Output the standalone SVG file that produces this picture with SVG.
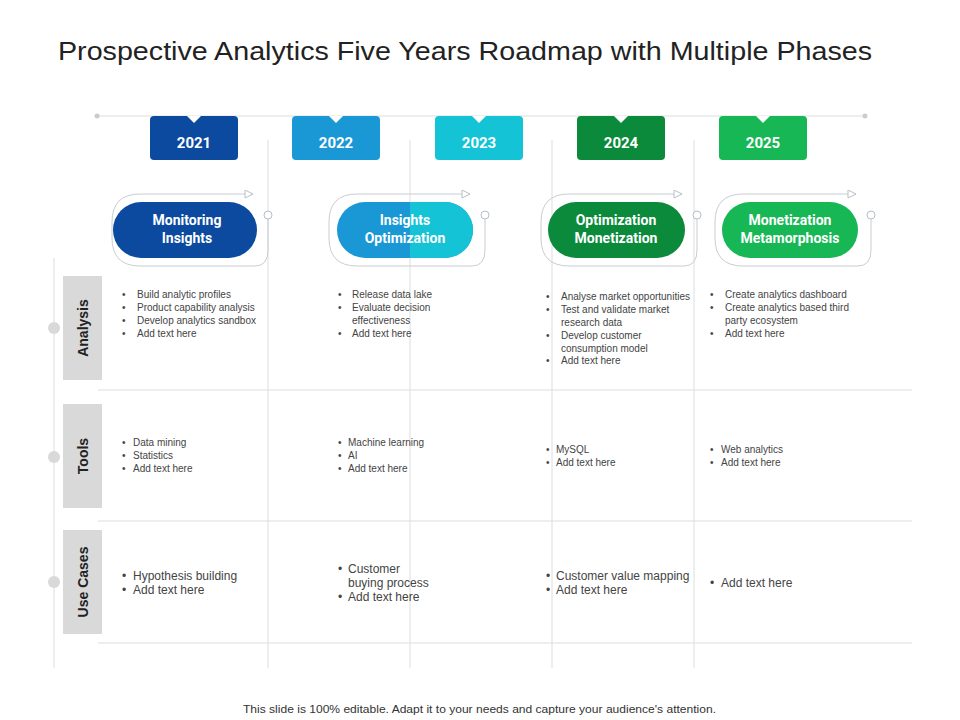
<svg xmlns="http://www.w3.org/2000/svg" width="960" height="720" viewBox="0 0 960 720">
<style>
.t{font-family:"Liberation Sans",Arial,sans-serif}
.yr{font-family:Roboto,"Liberation Sans",sans-serif;font-weight:bold;font-size:15px;fill:#fff;text-anchor:middle}
.pl{font-family:Roboto,"Liberation Sans",sans-serif;font-weight:bold;font-size:14px;fill:#fff;text-anchor:middle}
.b{font-family:"Liberation Sans",Arial,sans-serif;font-size:10px;fill:#444}
.b2{font-family:"Liberation Sans",Arial,sans-serif;font-size:12px;fill:#444}
.rl{font-family:"Liberation Sans",Arial,sans-serif;font-weight:bold;font-size:14px;fill:#222;text-anchor:middle}
.g{stroke:#ddd;stroke-width:1;fill:none}
.ol{stroke:#c8cdd4;stroke-width:1;fill:none}
</style>
<defs>
<marker id="ah" markerWidth="10" markerHeight="10" refX="9" refY="4" orient="auto" markerUnits="userSpaceOnUse"><path d="M1,0 L9,4 L1,8 Z" fill="#fff" stroke="#b8bfc9"/></marker>
</defs>
<rect width="960" height="720" fill="#fff"/>
<text x="58" y="60" class="t" font-size="25" fill="#222" textLength="814" lengthAdjust="spacingAndGlyphs">Prospective Analytics Five Years Roadmap with Multiple Phases</text>
<g id="connectors">
<line x1="97" y1="116" x2="865" y2="116" stroke="#ddd"/>
<circle cx="97" cy="116" r="2.5" fill="#ccc"/><circle cx="865" cy="116" r="2.5" fill="#ccc"/>
<line class="g" x1="268" y1="140" x2="268" y2="668"/>
<line class="g" x1="410" y1="140" x2="410" y2="668"/>
<line class="g" x1="552" y1="140" x2="552" y2="668"/>
<line class="g" x1="694" y1="140" x2="694" y2="668"/>
<line class="g" x1="54" y1="258" x2="54" y2="668"/>
<line class="g" x1="98" y1="390" x2="912" y2="390"/>
<line class="g" x1="98" y1="521" x2="912" y2="521"/>
<line class="g" x1="98" y1="643" x2="912" y2="643"/>
<circle cx="54" cy="328" r="6" fill="#d9d9d9"/>
<circle cx="54" cy="457" r="6" fill="#d9d9d9"/>
<circle cx="54" cy="582" r="6" fill="#d9d9d9"/>
</g>
<g id="y2021"><rect x="150" y="116" width="88" height="44" rx="4" fill="#0b4a9e"/><path d="M187,116 L201,116 L194,123Z" fill="#fff"/><text x="194" y="148" class="yr">2021</text></g>
<g id="y2022"><rect x="292" y="116" width="88" height="44" rx="4" fill="#1a98d5"/><path d="M329,116 L343,116 L336,123Z" fill="#fff"/><text x="336" y="148" class="yr">2022</text></g>
<g id="y2023"><rect x="435" y="116" width="88" height="44" rx="4" fill="#14c3d6"/><path d="M472,116 L486,116 L479,123Z" fill="#fff"/><text x="479" y="148" class="yr">2023</text></g>
<g id="y2024"><rect x="577" y="116" width="88" height="44" rx="4" fill="#0a8a3a"/><path d="M614,116 L628,116 L621,123Z" fill="#fff"/><text x="621" y="148" class="yr">2024</text></g>
<g id="y2025"><rect x="719" y="116" width="88" height="44" rx="4" fill="#16b754"/><path d="M756,116 L770,116 L763,123Z" fill="#fff"/><text x="763" y="148" class="yr">2025</text></g>

<g id="p1">
<path class="ol" d="M140,194 Q112,194 112,222 L112,238 Q112,266 140,266 L255,266 Q268,266 268,250 L268,219"/>
<path class="ol" d="M140,194 L253,194" marker-end="url(#ah)"/>
<circle cx="268" cy="215" r="4" fill="#fff" stroke="#b8bfc9"/>
<rect x="113" y="202" width="144" height="56" rx="28" fill="#0b4a9e"/>
<text x="187" y="225" class="pl">Monitoring</text><text x="187" y="243" class="pl">Insights</text></g>
<g id="p2">
<path class="ol" d="M357,194 Q329,194 329,222 L329,238 Q329,266 357,266 L472,266 Q485,266 485,250 L485,219"/>
<path class="ol" d="M357,194 L470,194" marker-end="url(#ah)"/>
<circle cx="485" cy="215" r="4" fill="#fff" stroke="#b8bfc9"/>
<rect x="337" y="202" width="136" height="56" rx="28" fill="#1a98d5"/>
<path d="M410,202 L445,202 A28,28 0 0 1 445,258 L410,258Z" fill="#14c3d6"/>
<text x="405" y="225" class="pl">Insights</text><text x="405" y="243" class="pl">Optimization</text></g>
<g id="p3">
<path class="ol" d="M569,194 Q541,194 541,222 L541,238 Q541,266 569,266 L684,266 Q697,266 697,250 L697,219"/>
<path class="ol" d="M569,194 L682,194" marker-end="url(#ah)"/>
<circle cx="697" cy="215" r="4" fill="#fff" stroke="#b8bfc9"/>
<rect x="548" y="202" width="137" height="56" rx="28" fill="#0a8a3a"/>
<text x="616" y="225" class="pl">Optimization</text><text x="616" y="243" class="pl">Monetization</text></g>
<g id="p4">
<path class="ol" d="M743,194 Q715,194 715,222 L715,238 Q715,266 743,266 L858,266 Q871,266 871,250 L871,219"/>
<path class="ol" d="M743,194 L856,194" marker-end="url(#ah)"/>
<circle cx="871" cy="215" r="4" fill="#fff" stroke="#b8bfc9"/>
<rect x="722" y="202" width="136" height="56" rx="28" fill="#16b754"/>
<text x="790" y="225" class="pl">Monetization</text><text x="790" y="243" class="pl">Metamorphosis</text></g>

<g id="r1"><rect x="63" y="276" width="39" height="104" fill="#d9d9d9"/><text transform="translate(88,328) rotate(-90)" class="rl">Analysis</text></g>
<g id="r2"><rect x="63" y="404" width="39" height="104" fill="#d9d9d9"/><text transform="translate(88,456) rotate(-90)" class="rl">Tools</text></g>
<g id="r3"><rect x="63" y="530" width="39" height="104" fill="#d9d9d9"/><text transform="translate(88,582) rotate(-90)" class="rl">Use Cases</text></g>

<g id="c11" class="b">
<text x="122" y="298">•</text><text x="137" y="298">Build analytic profiles</text>
<text x="122" y="311">•</text><text x="137" y="311">Product capability analysis</text>
<text x="122" y="324">•</text><text x="137" y="324">Develop analytics sandbox</text>
<text x="122" y="337">•</text><text x="137" y="337">Add text here</text></g>
<g id="c12" class="b">
<text x="338" y="298">•</text><text x="352" y="298">Release data lake</text>
<text x="338" y="311">•</text><text x="352" y="311">Evaluate decision</text>
<text x="352" y="324">effectiveness</text>
<text x="338" y="337">•</text><text x="352" y="337">Add text here</text></g>
<g id="c13" class="b">
<text x="546" y="300">•</text><text x="561" y="300">Analyse market opportunities</text>
<text x="546" y="313">•</text><text x="561" y="313">Test and validate market</text>
<text x="561" y="326">research data</text>
<text x="546" y="339">•</text><text x="561" y="339">Develop customer</text>
<text x="561" y="352">consumption model</text>
<text x="546" y="364">•</text><text x="561" y="364">Add text here</text></g>
<g id="c14" class="b">
<text x="710" y="298">•</text><text x="725" y="298">Create analytics dashboard</text>
<text x="710" y="311">•</text><text x="725" y="311">Create analytics based third</text>
<text x="725" y="324">party ecosystem</text>
<text x="710" y="337">•</text><text x="725" y="337">Add text here</text></g>
<g id="c21" class="b">
<text x="122" y="446">•</text><text x="133" y="446">Data mining</text>
<text x="122" y="459">•</text><text x="133" y="459">Statistics</text>
<text x="122" y="472">•</text><text x="133" y="472">Add text here</text></g>
<g id="c22" class="b">
<text x="338" y="446">•</text><text x="348" y="446">Machine learning</text>
<text x="338" y="459">•</text><text x="348" y="459">AI</text>
<text x="338" y="472">•</text><text x="348" y="472">Add text here</text></g>
<g id="c23" class="b">
<text x="546" y="453">•</text><text x="556" y="453">MySQL</text>
<text x="546" y="466">•</text><text x="556" y="466">Add text here</text></g>
<g id="c24" class="b">
<text x="710" y="453">•</text><text x="721" y="453">Web analytics</text>
<text x="710" y="466">•</text><text x="721" y="466">Add text here</text></g>
<g id="c31" class="b2">
<text x="122" y="580">•</text><text x="133" y="580">Hypothesis building</text>
<text x="122" y="594">•</text><text x="133" y="594">Add text here</text></g>
<g id="c32" class="b2">
<text x="338" y="573">•</text><text x="348" y="573">Customer</text>
<text x="348" y="587">buying process</text>
<text x="338" y="601">•</text><text x="348" y="601">Add text here</text></g>
<g id="c33" class="b2">
<text x="546" y="580">•</text><text x="556" y="580">Customer value mapping</text>
<text x="546" y="594">•</text><text x="556" y="594">Add text here</text></g>
<g id="c34" class="b2">
<text x="710" y="587">•</text><text x="721" y="587">Add text here</text></g>
<text x="243" y="713" class="t" font-size="11" fill="#333" textLength="473" lengthAdjust="spacingAndGlyphs">This slide is 100% editable. Adapt it to your needs and capture your audience's attention.</text>
</svg>
